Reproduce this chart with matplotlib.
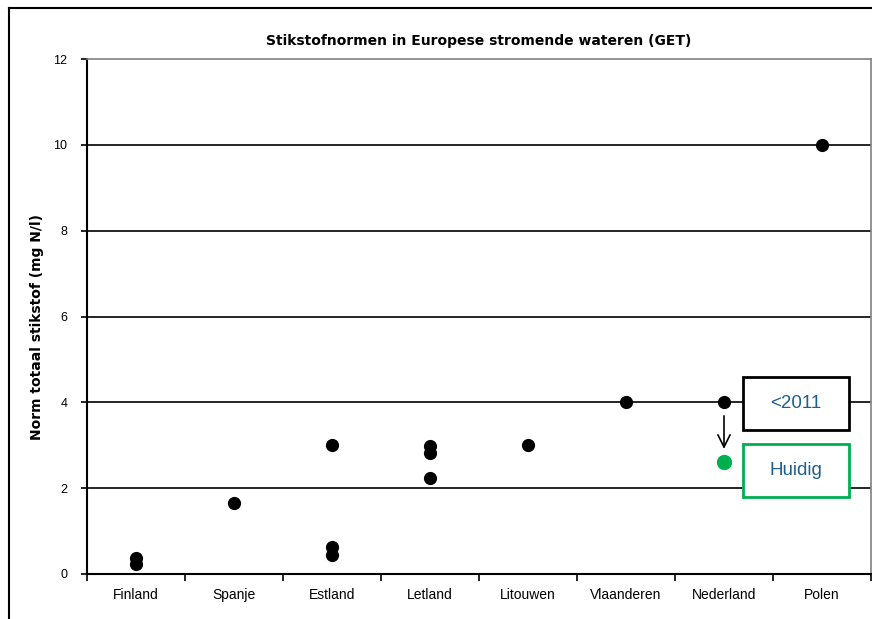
import numpy as np
import matplotlib.pyplot as plt
from matplotlib.patches import Rectangle

# data
landen = ["Finland", "Spanje", "Estland", "Letland", "Litouwen",
          "Vlaanderen", "Nederland", "Polen"]
punt_land = [0, 0, 1, 2, 2, 2, 3, 3, 3, 4, 5, 6, 7]
punt_norm = [0.37, 0.23, 1.65, 3.0, 0.63, 0.44, 2.98, 2.82, 2.24, 3.0, 4.0, 4.0, 10.0]
huidig_land = 6
huidig_norm = 2.6
y_ticks = [0, 2, 4, 6, 8, 10, 12]

W, H = 872, 619
fig = plt.figure(figsize=(W / 100, H / 100), dpi=100)
ax = fig.add_axes([87 / W, 1 - 574 / H, (871 - 87) / W, (574 - 59) / H])

# outer chart frame (Excel style)
fig.add_artist(plt.Line2D([9 / W, 9 / W], [0, 1 - 8 / H], color="black", lw=1.5))
fig.add_artist(plt.Line2D([9 / W, 1], [1 - 8 / H, 1 - 8 / H], color="black", lw=1.5))

x = np.array(punt_land) + 0.5
ax.scatter(x, punt_norm, s=72, color="black", zorder=3)
ax.scatter([huidig_land + 0.5], [huidig_norm], s=100, color="#00B050", zorder=3)

ax.set_xlim(0, len(landen))
ax.set_ylim(0, 12)
ax.set_yticks(y_ticks)
ax.set_yticklabels([str(v) for v in y_ticks], fontsize=9, family="Liberation Sans")
ax.set_xticks(np.arange(len(landen) + 1))
ax.set_xticklabels([])
ax.set_xticks(np.arange(len(landen)) + 0.5, minor=True)
ax.set_xticklabels(landen, minor=True, fontsize=10, family="Liberation Sans")
ax.tick_params(axis="x", which="minor", length=0, pad=10)
ax.tick_params(axis="x", which="major", length=5, direction="out", width=1.2)
ax.tick_params(axis="y", length=4, direction="out", width=1.2, pad=10)

for v in y_ticks[1:-1]:
    ax.axhline(v, color="black", lw=1.2, zorder=1)

for s in ["left", "bottom"]:
    ax.spines[s].set_linewidth(1.5)
for s in ["top", "right"]:
    ax.spines[s].set_color("#808080")
    ax.spines[s].set_linewidth(1.2)

ax.set_title("Stikstofnormen in Europese stromende wateren (GET)",
             fontsize=10, fontweight="bold", pad=10)
ax.set_ylabel("Norm totaal stikstof (mg N/l)", fontsize=10, fontweight="bold")
ax.yaxis.set_label_coords((44 - 87) / (871 - 87), 0.48)

# annotation: arrow and boxes
ax.annotate("", xy=(huidig_land + 0.5, 2.85), xytext=(huidig_land + 0.5, 3.75),
            arrowprops=dict(arrowstyle="->", color="black", lw=1.2, mutation_scale=22))

def box(y0, y1, text, edge):
    bx0 = (743 - 87) / (871 - 87) * len(landen)
    bx1 = (849 - 87) / (871 - 87) * len(landen)
    ax.add_patch(Rectangle((bx0, y0), bx1 - bx0, y1 - y0, facecolor="white",
                           edgecolor=edge, lw=2, zorder=4))
    ax.text((bx0 + bx1) / 2, (y0 + y1) / 2, text, ha="center", va="center",
            fontsize=13.5, color="#1F5F8B", family="Liberation Sans", zorder=5)

box((574 - 430) / 42.9, (574 - 377) / 42.9, "<2011", "black")
box((574 - 497) / 42.9, (574 - 444) / 42.9, "Huidig", "#00B050")

fig.savefig("out.png", dpi=100)
